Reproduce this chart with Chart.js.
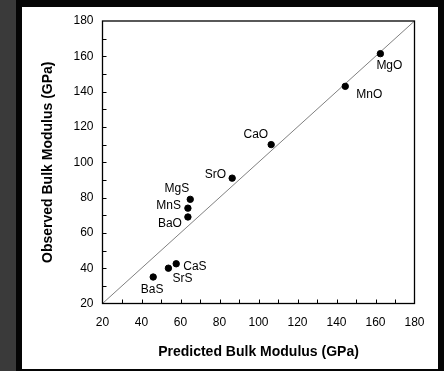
<!DOCTYPE html>
<html>
<head>
<meta charset="utf-8">
<script src="https://cdn.jsdelivr.net/npm/chart.js@4.4.1/dist/chart.umd.min.js"></script>
<style>
  html, body { margin: 0; padding: 0; }
  body { width: 444px; height: 371px; background: #3a3a3a; position: relative; overflow: hidden; }
  .frame { position: absolute; left: 16px; top: 0; width: 428px; height: 371px; background: #050505; }
  .panel { position: absolute; left: 22px; top: 7px; width: 416px; height: 362px; background: #fff; }
  #chart { position: absolute; left: 0; top: 0; }
</style>
</head>
<body>
<div class="frame"></div>
<div class="panel"></div>
<canvas id="chart" width="444" height="371"></canvas>
<script>
// compounds, predicted vs observed bulk modulus (GPa)
const compounds = ['MgO', 'MnO', 'CaO', 'SrO', 'MgS', 'MnS', 'BaO', 'CaS', 'SrS', 'BaS'];
const predicted = [162.5, 144.5, 106.5, 86.5, 65, 63.8, 63.8, 57.8, 53.8, 46];
const observed  = [161.5, 143, 110, 91, 79, 74, 69, 42.5, 40, 35];
const axisMin = 20;
const axisMax = 180;
const tickLabels = [20, 40, 60, 80, 100, 120, 140, 160, 180];

// where each label sits relative to its dot: [dx, dy, align]
const labelPlacement = [
  [-4, 12, 'left'], [11, 8, 'left'], [-3, -10, 'right'], [-6, -3, 'right'],
  [-1, -11, 'right'], [-7, -2, 'right'], [-6, 7, 'right'],
  [7, 3, 'left'], [4, 10, 'left'], [-1, 13, 'center']
];

const FONT = '"Liberation Sans", Arial, sans-serif';

const points = predicted.map((p, i) => ({ x: p, y: observed[i] }));

const decorations = {
  id: 'decorations',
  afterDraw(chart) {
    const { ctx, chartArea: a, scales: { x, y } } = chart;
    ctx.save();
    ctx.strokeStyle = '#000';
    ctx.lineWidth = 1;
    // inward ticks every 10
    ctx.beginPath();
    for (let v = axisMin + 10; v < axisMax; v += 10) {
      const px = Math.round(x.getPixelForValue(v)) + 0.5;
      ctx.moveTo(px, a.bottom);
      ctx.lineTo(px, a.bottom - 4);
      const py = Math.round(y.getPixelForValue(v)) + 0.5;
      ctx.moveTo(a.left, py);
      ctx.lineTo(a.left + 4, py);
    }
    ctx.stroke();
    ctx.lineWidth = 1.3;
    ctx.strokeRect(a.left, a.top, a.right - a.left, a.bottom - a.top);

    // point labels
    ctx.fillStyle = '#000';
    ctx.font = '12px ' + FONT;
    ctx.textBaseline = 'middle';
    compounds.forEach((name, i) => {
      const [dx, dy, align] = labelPlacement[i];
      ctx.textAlign = align;
      ctx.fillText(name, x.getPixelForValue(predicted[i]) + dx, y.getPixelForValue(observed[i]) + dy);
    });
    ctx.restore();
  }
};

new Chart(document.getElementById('chart'), {
  type: 'scatter',
  data: {
    datasets: [
      {
        label: 'y = x',
        type: 'line',
        data: [{ x: axisMin, y: axisMin }, { x: axisMax, y: axisMax }],
        borderColor: '#808080',
        borderWidth: 1,
        pointRadius: 0,
        order: 2
      },
      {
        label: 'compounds',
        data: points,
        backgroundColor: '#000',
        borderColor: '#000',
        pointRadius: 3.2,
        order: 1
      }
    ]
  },
  options: {
    responsive: false,
    animation: false,
    events: [],
    layout: { padding: { left: 0, top: 21, right: 29.5, bottom: 0 } },
    plugins: { legend: { display: false }, tooltip: { enabled: false } },
    scales: {
      x: {
        type: 'linear',
        min: axisMin,
        max: axisMax,
        afterFit(scale) { scale.height = 67.5; },
        afterBuildTicks(scale) { scale.ticks = tickLabels.map(v => ({ value: v })); },
        grid: { display: false, drawTicks: false },
        border: { display: false },
        ticks: { color: '#000', font: { family: FONT, size: 12 }, padding: 12 },
        title: {
          display: true,
          text: 'Predicted Bulk Modulus (GPa)',
          color: '#000',
          font: { family: FONT, size: 14, weight: 'bold' },
          padding: { top: 0, bottom: 10 }
        }
      },
      y: {
        type: 'linear',
        min: axisMin,
        max: axisMax,
        afterFit(scale) { scale.width = 102.5; },
        afterBuildTicks(scale) { scale.ticks = tickLabels.map(v => ({ value: v })); },
        grid: { display: false, drawTicks: false },
        border: { display: false },
        ticks: { color: '#000', font: { family: FONT, size: 12 }, padding: 9 },
        title: {
          display: true,
          text: 'Observed Bulk Modulus (GPa)',
          color: '#000',
          font: { family: FONT, size: 14, weight: 'bold' },
          padding: { top: 40, bottom: 0 }
        }
      }
    }
  },
  plugins: [decorations]
});
</script>
</body>
</html>
